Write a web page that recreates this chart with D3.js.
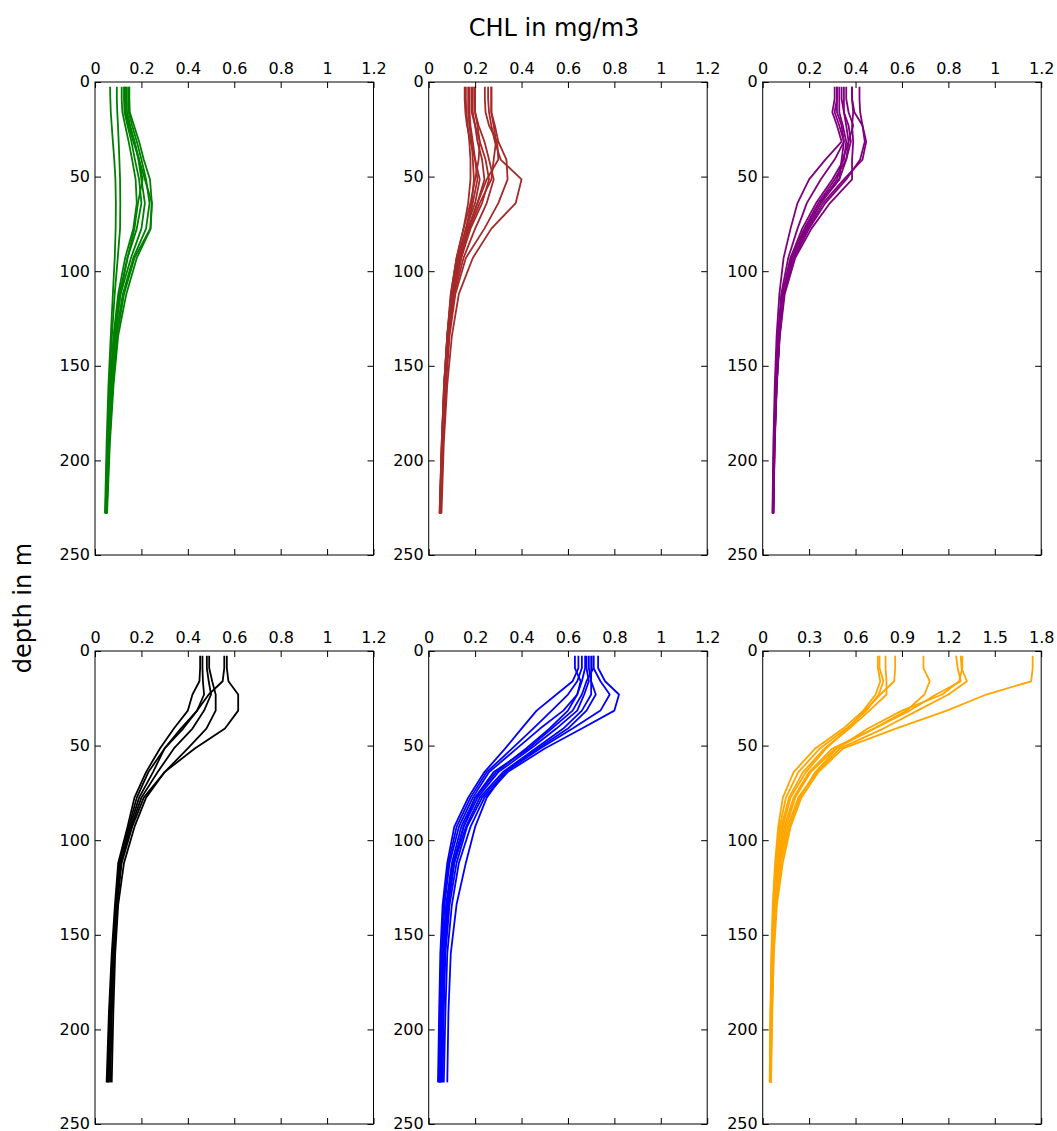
<!DOCTYPE html>
<html><head><meta charset="utf-8">
<script src="https://cdn.jsdelivr.net/npm/d3@7/dist/d3.min.js"></script>
<style>body{margin:0;background:#fff} text{font-family:"DejaVu Sans",sans-serif}</style>
</head><body><svg id="c" width="1057" height="1131"></svg>
<script>
// depth levels (m)
const depths = [2.5, 9, 16, 23, 31.5, 41, 51.5, 64, 77.5, 93, 112, 134, 160, 191, 228];
const xTicksStd = [0, 0.2, 0.4, 0.6, 0.8, 1.0, 1.2];
const xTicksOrange = [0, 0.3, 0.6, 0.9, 1.2, 1.5, 1.8];
const yTicks = [0, 50, 100, 150, 200, 250];
const titleText = "CHL in mg/m3";
const yLabelText = "depth in m";

const greenProfiles = [
  [0.065,0.066,0.068,0.072,0.077,0.083,0.088,0.09,0.089,0.085,0.077,0.068,0.058,0.05,0.043],
  [0.094,0.094,0.096,0.099,0.102,0.105,0.108,0.109,0.108,0.098,0.085,0.073,0.062,0.053,0.045],
  [0.115,0.115,0.118,0.13,0.145,0.16,0.175,0.18,0.165,0.13,0.1,0.08,0.066,0.055,0.046],
  [0.125,0.125,0.127,0.14,0.157,0.172,0.19,0.2,0.18,0.14,0.105,0.082,0.068,0.056,0.047],
  [0.137,0.137,0.138,0.152,0.17,0.187,0.2,0.215,0.2,0.155,0.11,0.085,0.07,0.058,0.048],
  [0.144,0.144,0.145,0.16,0.18,0.2,0.22,0.235,0.22,0.165,0.12,0.09,0.074,0.06,0.05],
  [0.148,0.148,0.15,0.168,0.19,0.21,0.237,0.245,0.24,0.18,0.135,0.1,0.08,0.064,0.052],
  [0.128,0.128,0.13,0.145,0.165,0.19,0.215,0.245,0.238,0.17,0.125,0.095,0.077,0.062,0.05],
  [0.13,0.13,0.132,0.148,0.17,0.19,0.205,0.185,0.17,0.14,0.11,0.085,0.068,0.056,0.046]
];
const brownProfiles = [
  [0.256,0.256,0.26,0.27,0.285,0.31,0.40,0.375,0.27,0.19,0.13,0.1,0.08,0.065,0.055],
  [0.27,0.27,0.27,0.285,0.3,0.335,0.34,0.3,0.24,0.16,0.115,0.09,0.075,0.062,0.052],
  [0.242,0.242,0.245,0.26,0.295,0.3,0.25,0.21,0.17,0.135,0.105,0.085,0.07,0.06,0.05],
  [0.27,0.27,0.27,0.28,0.29,0.28,0.27,0.22,0.175,0.14,0.108,0.086,0.07,0.06,0.05],
  [0.155,0.155,0.158,0.165,0.18,0.2,0.22,0.2,0.16,0.13,0.1,0.083,0.068,0.058,0.049],
  [0.17,0.17,0.17,0.175,0.185,0.19,0.195,0.185,0.16,0.125,0.1,0.08,0.067,0.057,0.048],
  [0.184,0.184,0.185,0.2,0.22,0.245,0.26,0.23,0.18,0.14,0.105,0.084,0.07,0.06,0.05],
  [0.198,0.198,0.2,0.215,0.24,0.26,0.28,0.25,0.2,0.15,0.11,0.087,0.071,0.06,0.05],
  [0.16,0.16,0.162,0.168,0.175,0.18,0.18,0.17,0.15,0.12,0.095,0.08,0.066,0.056,0.047],
  [0.19,0.19,0.19,0.2,0.21,0.23,0.24,0.21,0.17,0.13,0.1,0.082,0.068,0.058,0.049],
  [0.175,0.175,0.176,0.18,0.19,0.2,0.21,0.19,0.165,0.128,0.098,0.081,0.067,0.057,0.048],
  [0.2,0.2,0.2,0.21,0.22,0.215,0.2,0.18,0.15,0.12,0.096,0.08,0.066,0.056,0.047]
];
const purpleProfiles = [
  [0.31,0.31,0.3,0.32,0.34,0.27,0.2,0.15,0.12,0.09,0.072,0.06,0.052,0.046,0.042],
  [0.32,0.32,0.32,0.34,0.35,0.31,0.25,0.19,0.15,0.11,0.08,0.065,0.055,0.048,0.043],
  [0.33,0.33,0.33,0.345,0.36,0.35,0.3,0.23,0.17,0.12,0.085,0.068,0.057,0.049,0.044],
  [0.35,0.35,0.35,0.37,0.38,0.36,0.31,0.24,0.18,0.125,0.088,0.07,0.058,0.05,0.045],
  [0.36,0.36,0.37,0.39,0.37,0.345,0.32,0.25,0.19,0.13,0.09,0.072,0.06,0.051,0.046],
  [0.385,0.385,0.39,0.385,0.39,0.385,0.385,0.29,0.21,0.14,0.095,0.074,0.061,0.052,0.046],
  [0.417,0.417,0.42,0.43,0.44,0.42,0.36,0.27,0.2,0.135,0.092,0.073,0.06,0.051,0.046],
  [0.385,0.385,0.395,0.43,0.446,0.43,0.35,0.26,0.195,0.13,0.09,0.072,0.06,0.051,0.045],
  [0.32,0.32,0.31,0.33,0.35,0.34,0.33,0.24,0.18,0.12,0.086,0.069,0.058,0.05,0.044],
  [0.34,0.34,0.35,0.36,0.37,0.36,0.33,0.25,0.185,0.128,0.088,0.07,0.058,0.05,0.045]
];
const blackProfiles = [
  [0.568,0.568,0.575,0.617,0.617,0.56,0.43,0.3,0.22,0.17,0.125,0.1,0.087,0.079,0.072],
  [0.557,0.557,0.55,0.49,0.44,0.37,0.3,0.25,0.19,0.15,0.112,0.095,0.082,0.073,0.066],
  [0.492,0.492,0.505,0.52,0.52,0.48,0.4,0.3,0.21,0.16,0.115,0.095,0.08,0.07,0.06],
  [0.482,0.482,0.49,0.5,0.47,0.42,0.34,0.27,0.2,0.155,0.11,0.092,0.078,0.066,0.056],
  [0.463,0.463,0.465,0.47,0.44,0.38,0.3,0.23,0.18,0.145,0.105,0.09,0.075,0.063,0.053],
  [0.453,0.453,0.45,0.42,0.4,0.34,0.28,0.22,0.17,0.14,0.1,0.086,0.072,0.06,0.05]
];
const blueProfiles = [
  [0.645,0.645,0.62,0.55,0.465,0.4,0.33,0.24,0.17,0.11,0.08,0.06,0.05,0.045,0.04],
  [0.63,0.63,0.655,0.64,0.58,0.48,0.38,0.26,0.19,0.13,0.09,0.068,0.056,0.05,0.045],
  [0.674,0.674,0.66,0.64,0.6,0.52,0.42,0.29,0.2,0.14,0.1,0.075,0.06,0.053,0.048],
  [0.68,0.68,0.69,0.67,0.64,0.55,0.44,0.3,0.21,0.15,0.105,0.08,0.063,0.055,0.05],
  [0.70,0.70,0.7,0.7,0.66,0.58,0.46,0.32,0.22,0.16,0.11,0.085,0.068,0.06,0.055],
  [0.71,0.71,0.74,0.78,0.74,0.62,0.48,0.33,0.23,0.165,0.12,0.09,0.072,0.065,0.06],
  [0.73,0.73,0.76,0.82,0.8,0.66,0.5,0.34,0.24,0.18,0.13,0.1,0.08,0.072,0.065],
  [0.69,0.69,0.7,0.72,0.68,0.6,0.47,0.33,0.25,0.2,0.16,0.12,0.095,0.085,0.08],
  [0.71,0.71,0.68,0.66,0.62,0.53,0.43,0.28,0.2,0.15,0.11,0.082,0.066,0.058,0.052],
  [0.66,0.66,0.64,0.6,0.53,0.45,0.36,0.25,0.18,0.12,0.085,0.065,0.055,0.048,0.043]
];
const orangeProfiles = [
  [0.744,0.744,0.76,0.73,0.65,0.52,0.34,0.2,0.13,0.1,0.08,0.065,0.056,0.05,0.045],
  [0.755,0.755,0.78,0.75,0.67,0.54,0.37,0.23,0.15,0.11,0.085,0.068,0.058,0.051,0.046],
  [0.794,0.794,0.8,0.8,0.69,0.56,0.4,0.26,0.17,0.12,0.09,0.07,0.06,0.052,0.047],
  [0.856,0.856,0.85,0.76,0.66,0.55,0.41,0.28,0.18,0.13,0.095,0.073,0.062,0.054,0.048],
  [1.039,1.039,1.08,1.045,0.93,0.72,0.45,0.3,0.2,0.14,0.1,0.078,0.064,0.055,0.049],
  [1.25,1.26,1.28,1.12,0.95,0.72,0.47,0.31,0.21,0.15,0.105,0.08,0.066,0.056,0.05],
  [1.28,1.285,1.32,1.2,1.0,0.78,0.5,0.35,0.23,0.16,0.11,0.083,0.068,0.058,0.051],
  [1.29,1.29,1.27,1.16,0.9,0.68,0.48,0.34,0.24,0.17,0.12,0.088,0.07,0.06,0.052],
  [1.745,1.745,1.735,1.445,1.19,0.86,0.52,0.36,0.25,0.18,0.13,0.092,0.072,0.062,0.054]
];

const panels = [
  {profiles: greenProfiles, color: "green", xTicks: xTicksStd},
  {profiles: brownProfiles, color: "brown", xTicks: xTicksStd},
  {profiles: purpleProfiles, color: "purple", xTicks: xTicksStd},
  {profiles: blackProfiles, color: "black", xTicks: xTicksStd},
  {profiles: blueProfiles, color: "blue", xTicks: xTicksStd},
  {profiles: orangeProfiles, color: "orange", xTicks: xTicksOrange}
];

const svg = d3.select("#c");
const W = 278.5, H = 473;
const lefts = [95, 428.7, 762.7];
const tops = [82, 651];
const fmt = d => String(+d.toFixed(1));

panels.forEach((p, i) => {
  const col = i % 3, row = Math.floor(i / 3);
  const g = svg.append("g").attr("transform", `translate(${lefts[col]},${tops[row]})`);
  const xMax = p.xTicks[p.xTicks.length - 1];
  const x = d3.scaleLinear().domain([0, xMax]).range([0, W]);
  const y = d3.scaleLinear().domain([0, 250]).range([0, H]);
  const line = d3.line().x(d => x(d.v)).y(d => y(d.z));

  g.selectAll("path.prof").data(p.profiles).join("path")
    .attr("class", "prof")
    .attr("d", pr => line(pr.map((v, k) => ({v, z: depths[k]}))))
    .attr("fill", "none").attr("stroke", p.color)
    .attr("stroke-width", 1.8).attr("stroke-linejoin", "round");

  const styleAxis = a => {
    a.select(".domain").remove();
    a.selectAll("line").attr("stroke", "#000").attr("stroke-width", 1);
    a.selectAll("text").attr("font-size", 16).attr("fill", "#000")
      .attr("font-family", "DejaVu Sans, sans-serif");
  };
  g.append("g").call(d3.axisTop(x).tickValues(p.xTicks).tickFormat(fmt)
      .tickSizeInner(-6).tickSizeOuter(0).tickPadding(8)).call(styleAxis);
  g.append("g").attr("transform", `translate(0,${H})`)
    .call(d3.axisBottom(x).tickValues(p.xTicks).tickFormat("")
      .tickSizeInner(-6).tickSizeOuter(0)).call(styleAxis);
  g.append("g").call(d3.axisLeft(y).tickValues(yTicks)
      .tickSizeInner(-6).tickSizeOuter(0).tickPadding(5)).call(styleAxis)
    .selectAll("text").attr("dy", "0.3em");
  g.append("g").attr("transform", `translate(${W},0)`)
    .call(d3.axisRight(y).tickValues(yTicks).tickFormat("")
      .tickSizeInner(-6).tickSizeOuter(0)).call(styleAxis);

  g.append("rect").attr("x", 0).attr("y", 0).attr("width", W).attr("height", H)
    .attr("fill", "none").attr("stroke", "#000").attr("stroke-width", 1);
});

svg.append("text").attr("x", 554).attr("y", 36).attr("text-anchor", "middle")
  .attr("font-size", 24).text(titleText);
svg.append("text").attr("transform", "translate(31,608) rotate(-90)")
  .attr("text-anchor", "middle").attr("font-size", 24).text(yLabelText);
</script>
</body></html>
